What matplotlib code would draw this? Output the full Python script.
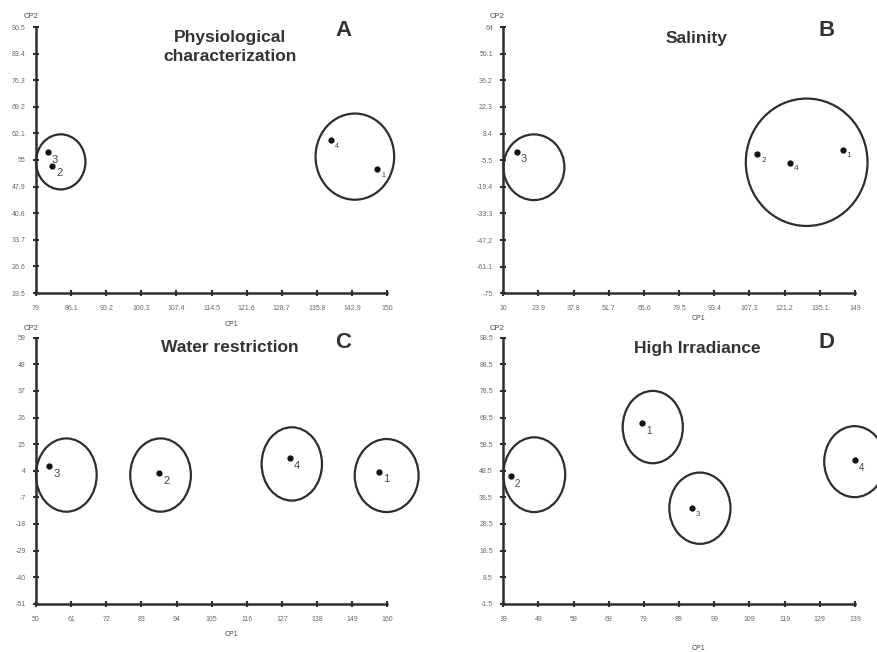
import numpy as np
import matplotlib
matplotlib.use("Agg")
import matplotlib.pyplot as plt
from matplotlib.patches import Ellipse

plt.rcParams['font.family'] = ['Liberation Sans', 'DejaVu Sans']

W, H = 877, 652

# panel data --------------------------------------------------------------
panels = ['A', 'B', 'C', 'D']
titles = ['Physiological\ncharacterization', 'Salinity', 'Water restriction', 'High Irradiance']

x_start = [79, 10, 50, 39]
x_step = [7.1, 13.9, 11, 10]
y_start = [19.5, -75, -51, -1.5]
y_step = [7.1, 13.9, 11, 10]

pt_labels = [['3', '2', '4', '1'],
             ['3', '2', '4', '1'],
             ['3', '2', '4', '1'],
             ['1', '2', '3', '4']]
pt_x = [[81.4, 82.2, 138.6, 148.0],
        [15.3, 110.3, 123.3, 144.1],
        [54.2, 88.5, 129.4, 157.5],
        [78.4, 41.1, 92.6, 139.0]]
pt_y = [[57.2, 53.5, 60.3, 52.6],
        [-1.1, -2.4, -6.8, 0.0],
        [5.9, 2.9, 9.2, 3.6],
        [66.3, 46.6, 34.5, 52.4]]

ell_x = [[84.0, 143.5],
         [22.1, 129.9],
         [59.5, 89.0, 130.1, 159.8],
         [81.5, 47.8, 94.9, 138.9]]
ell_y = [[54.5, 55.9],
         [-9.2, -6.6],
         [2.2, 2.2, 6.8, 2.0],
         [64.9, 47.0, 34.4, 51.9]]
ell_w = [[10.0, 15.9],
         [24.1, 48.1],
         [19.0, 19.0, 18.9, 20.0],
         [17.1, 17.6, 17.4, 17.3]]
ell_h = [[14.7, 23.0],
         [34.3, 66.5],
         [30.3, 30.3, 30.3, 30.2],
         [27.2, 28.1, 26.8, 26.7]]

# layout (pixels) ---------------------------------------------------------
ax_box = [(36, 387, 27, 293), (503.3, 855, 27, 293.3),
          (36, 387.3, 337.7, 603.7), (503.3, 855, 337.7, 603.7)]
title_pos = [(230, 47), (697, 38), (230, 348), (697, 349)]
letter_pos = [(344, 31), (827, 31), (343, 342), (827, 342)]
cp2_pos = [(31, 17), (497, 17), (31, 328), (497, 328)]
cp1_pos = [(231, 325), (698, 318), (231, 635), (698, 649)]
lab_size = [[8, 8, 5, 5], [8, 6, 6, 6], [8, 8, 8, 8], [7, 7, 5.5, 7]]

dark = '#2e2e2e'
gray = '#6a6a6a'

fig = plt.figure(figsize=(W / 100, H / 100), dpi=100)

for i in range(4):
    l, r, t, b = ax_box[i]
    ax = fig.add_axes([l / W, 1 - b / H, (r - l) / W, (b - t) / H])
    xt = [round(x_start[i] + k * x_step[i], 1) for k in range(11)]
    yt = [round(y_start[i] + k * y_step[i], 1) for k in range(11)]
    ax.set_xlim(xt[0], xt[-1])
    ax.set_ylim(yt[0], yt[-1])
    ax.set_xticks(xt)
    ax.set_yticks(yt)
    ax.set_xticklabels([('%g' % v) for v in xt])
    ax.set_yticklabels([('%g' % v) for v in yt])
    for s in ['top', 'right']:
        ax.spines[s].set_visible(False)
    for s in ['left', 'bottom']:
        ax.spines[s].set_linewidth(1.8)
        ax.spines[s].set_color(dark)
    ax.tick_params(direction='inout', length=5, width=1.5, color=dark,
                   labelsize=5, labelcolor=gray)
    ax.tick_params(axis='x', pad=6)
    ax.tick_params(axis='y', pad=5)
    ax.patch.set_visible(False)

    for cx, cy, w, h in zip(ell_x[i], ell_y[i], ell_w[i], ell_h[i]):
        ax.add_patch(Ellipse((cx, cy), w, h, fill=False, ec=dark, lw=1.6,
                             clip_on=False))
    ax.plot(pt_x[i], pt_y[i], 'o', color='#111111', ms=3.5, clip_on=False)
    for x, y, s, fs in zip(pt_x[i], pt_y[i], pt_labels[i], lab_size[i]):
        ax.annotate(s, (x, y), xytext=(3, -2), textcoords='offset points',
                    fontsize=fs, color='#444444', ha='left', va='top')

    tx, ty = title_pos[i]
    fig.text(tx / W, 1 - ty / H, titles[i], ha='center', va='center',
             fontsize=12.5, fontweight='bold', color='#333333', linespacing=1.35)
    lx, ly = letter_pos[i]
    fig.text(lx / W, 1 - ly / H, panels[i], ha='center', va='center',
             fontsize=16, fontweight='bold', color='#333333')
    px, py = cp2_pos[i]
    fig.text(px / W, 1 - py / H, 'CP2', ha='center', va='center',
             fontsize=5.5, color='#444444')
    px, py = cp1_pos[i]
    fig.text(px / W, 1 - py / H, 'CP1', ha='center', va='center',
             fontsize=5, color='#444444')

fig.savefig('out.png', dpi=100, facecolor='white')
